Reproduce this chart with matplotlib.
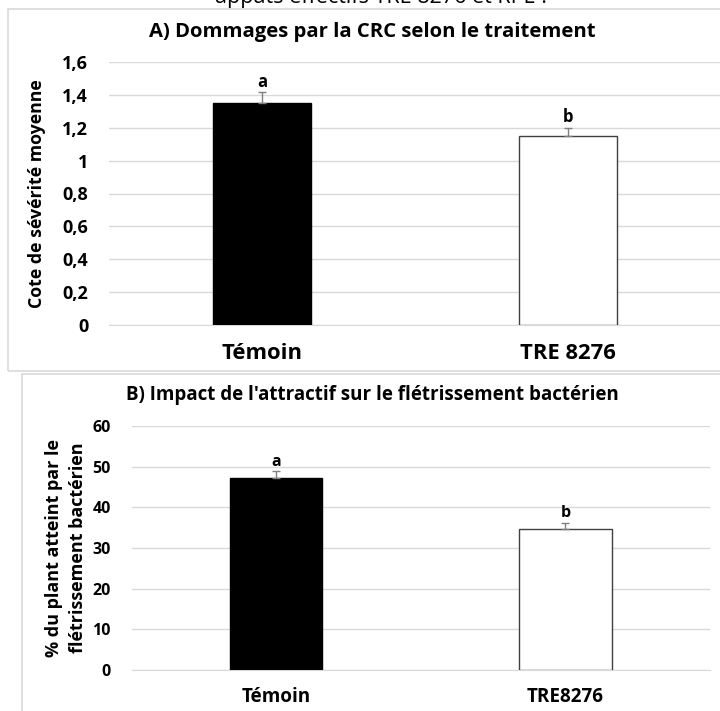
import matplotlib.pyplot as plt
from matplotlib.patches import Rectangle
from matplotlib.ticker import FuncFormatter

plt.rcParams['font.family'] = ['Open Sans', 'DejaVu Sans']

# Panel A
cats_a = ['Témoin', 'TRE 8276']
vals_a = [1.35, 1.15]
err_a = [0.065, 0.05]
lettres_a = ['a', 'b']

# Panel B
cats_b = ['Témoin', 'TRE8276']
vals_b = [47.2, 34.7]
err_b = [1.7, 1.5]
lettres_b = ['a', 'b']

W, H = 720, 711
fig = plt.figure(figsize=(W / 100, H / 100), dpi=100)
fig.patch.set_facecolor('white')

def px(x0, y0, x1, y1):
    # boite en pixels (origine en haut a gauche) -> fraction de figure
    return [x0 / W, 1 - y1 / H, (x1 - x0) / W, (y1 - y0) / H]

gris = '#d9d9d9'
fig.patches.append(Rectangle((8 / W, 1 - 371 / H), 720 / W, 362 / H, transform=fig.transFigure,
                             fill=False, edgecolor=gris, lw=1.2))
fig.patches.append(Rectangle((22 / W, -0.1), 720 / W, 1 - 374 / H + 0.1, transform=fig.transFigure,
                             fill=False, edgecolor=gris, lw=1.2))

# texte du dessus, coupé par le bord de l'image
fig.text(382 / W, 1 - 2.5 / H, "appâts effectifs TRE 8276 et RPL ?", ha='center', va='baseline', fontsize=15.5)

virgule = FuncFormatter(lambda v, p: ('%g' % round(v, 2)).replace('.', ','))


def panneau(rect, cats, vals, errs, lettres, ymax, ystep, titre, ylabel, title_y, ylab_x,
            fs_titre, fs_ytick, fs_xtick, fs_ylab, fs_lettre, pad_x):
    ax = fig.add_axes(rect)
    x = range(len(cats))
    ax.bar(x, vals, width=0.32, color=['black', 'white'], edgecolor=['black', '#404040'], lw=1, zorder=3)
    ax.errorbar(x, vals, yerr=[[0] * len(errs), errs], fmt='none', ecolor='#808080', elinewidth=1,
                capsize=3, capthick=1, zorder=4)
    for i, (v, e, l) in enumerate(zip(vals, errs, lettres)):
        ax.annotate(l, (i, v + e), xytext=(0, 1), textcoords='offset points', ha='center', va='bottom',
                    fontsize=fs_lettre, fontweight='bold')
    ax.set_xlim(-0.5, len(cats) - 0.5)
    ax.set_ylim(0, ymax)
    ticks = [i * ystep for i in range(int(round(ymax / ystep)) + 1)]
    ax.set_yticks(ticks)
    ax.yaxis.set_major_formatter(virgule)
    ax.grid(axis='y', color=gris, lw=1, zorder=0)
    for s in ['top', 'right', 'left']:
        ax.spines[s].set_visible(False)
    ax.spines['bottom'].set_color(gris)
    ax.tick_params(axis='y', length=0, labelsize=fs_ytick, pad=15)
    ax.tick_params(axis='x', length=0, labelsize=fs_xtick, pad=pad_x)
    ax.set_xticks(list(x))
    ax.set_xticklabels(cats)
    for t in ax.get_xticklabels() + ax.get_yticklabels():
        t.set_fontweight('bold')
    fig.text(372 / W, 1 - title_y / H, titre, ha='center', va='center', fontsize=fs_titre, fontweight='bold')
    pos = ax.get_position()
    fig.text(ylab_x / W, pos.y0 + pos.height / 2, ylabel, rotation=90,
             ha='center', va='center', fontsize=fs_ylab, fontweight='bold', linespacing=1.4)
    return ax


panneau(px(109, 62, 721, 325), cats_a, vals_a, err_a, lettres_a, 1.6, 0.2,
        'A) Dommages par la CRC selon le traitement', 'Cote de sévérité moyenne', 32, 37,
        14.6, 13, 15.8, 12.8, 12, 13)
panneau(px(131.5, 426, 710, 670), cats_b, vals_b, err_b, lettres_b, 60, 10,
        "B) Impact de l'attractif sur le flétrissement bactérien",
        '% du plant atteint par le\nflétrissement bactérien', 395, 66,
        13.5, 11.5, 13.6, 13, 11.5, 12)

fig.savefig('out.png', dpi=100)
